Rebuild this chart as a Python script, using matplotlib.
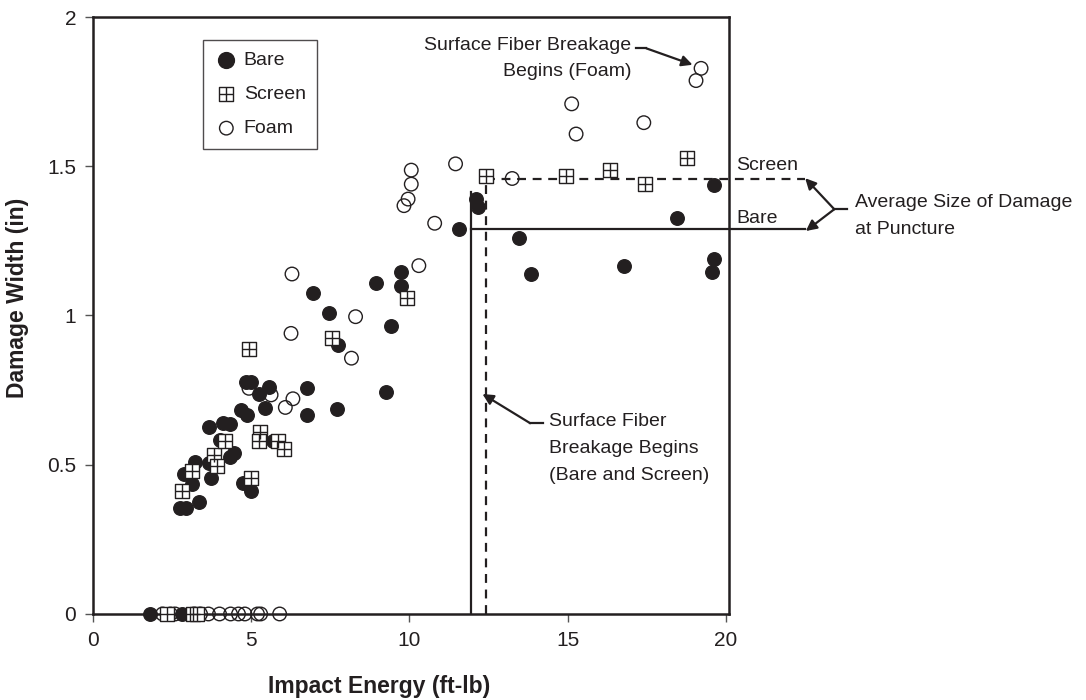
import numpy as np
import matplotlib
matplotlib.use('Agg')
import matplotlib.pyplot as plt

plt.rcParams['font.family'] = ['Liberation Sans', 'DejaVu Sans']

# impact energy (ft-lb) and damage width (in)
bare_x = [1.8, 2.8, 2.76, 2.95, 3.35, 2.89, 3.14, 3.21, 3.72, 3.68, 4.74, 5.0, 4.0, 4.34, 4.47,
          3.66, 4.10, 4.32, 4.68, 4.86, 5.44, 5.26, 5.56, 4.84, 5.0, 5.68, 6.77, 6.77, 7.72,
          6.96, 7.45, 7.74, 9.27, 9.43, 8.96, 9.73, 9.75, 11.56, 12.11, 12.17, 13.46, 13.85,
          16.77, 18.46, 19.64, 19.64, 19.56]
bare_y = [0, 0, 0.354, 0.354, 0.376, 0.469, 0.436, 0.508, 0.457, 0.505, 0.438, 0.413, 0.583,
          0.527, 0.538, 0.628, 0.639, 0.637, 0.683, 0.667, 0.689, 0.737, 0.759, 0.778, 0.778,
          0.578, 0.758, 0.667, 0.688, 1.076, 1.008, 0.901, 0.745, 0.965, 1.108, 1.147, 1.099,
          1.289, 1.390, 1.362, 1.259, 1.139, 1.167, 1.328, 1.437, 1.189, 1.147]

screen_x = [2.35, 3.15, 3.3, 2.82, 3.14, 3.84, 3.93, 4.16, 5.01, 5.29, 5.26, 5.86, 6.03, 4.93,
            7.55, 9.93, 12.41, 14.94, 16.35, 17.46, 18.77]
screen_y = [0, 0, 0, 0.413, 0.480, 0.531, 0.497, 0.581, 0.455, 0.609, 0.578, 0.581, 0.553,
            0.887, 0.926, 1.058, 1.467, 1.468, 1.487, 1.44, 1.527]

foam_x = [2.2, 2.45, 2.6, 3.2, 3.4, 3.65, 4.0, 4.35, 4.6, 4.8, 5.2, 5.3, 5.9, 4.93, 5.63,
          6.32, 6.08, 6.26, 6.29, 8.30, 8.17, 9.83, 9.96, 10.06, 10.06, 10.30, 10.80, 11.46,
          13.25, 15.13, 15.27, 17.41, 19.06, 19.22]
foam_y = [0, 0, 0, 0, 0, 0, 0, 0, 0, 0, 0, 0, 0, 0.756, 0.734, 0.721, 0.692, 0.940, 1.139,
          0.996, 0.857, 1.368, 1.390, 1.44, 1.487, 1.167, 1.309, 1.508, 1.459, 1.709, 1.608,
          1.646, 1.787, 1.828]

# onset of surface fiber breakage and average damage size at puncture
onset_bare, onset_screen = 11.96, 12.43
avg_bare, avg_screen = 1.289, 1.457

ink = '#231f20'
fs = 14
lsp = 1.75

fig = plt.figure(figsize=(10.86, 7), dpi=100)
ax = fig.add_axes([0.0856, 0.1229, 0.5856, 0.8528])

ax.scatter(bare_x, bare_y, s=95, c=ink, marker='o', clip_on=False, zorder=3)
sq = ax.scatter(screen_x, screen_y, s=100, facecolors='white', edgecolors=ink, marker='s',
                linewidths=1.0, clip_on=False, zorder=4)
pl = ax.scatter(screen_x, screen_y, s=100, c=ink, marker='+', linewidths=1.0,
                clip_on=False, zorder=5)
fm = ax.scatter(foam_x, foam_y, s=95, facecolors='none', edgecolors=ink, marker='o',
                linewidths=1.0, clip_on=False, zorder=3)

# reference lines
ax.plot([onset_bare, onset_bare], [0, 1.415], color=ink, lw=1.6, zorder=2)
ax.plot([onset_bare, 22.5], [avg_bare, avg_bare], color=ink, lw=1.6, clip_on=False, zorder=2)
ax.plot([onset_screen, onset_screen], [0, avg_screen], color=ink, lw=1.6, ls=(0, (4, 3)), zorder=2)
ax.plot([onset_screen, 22.5], [avg_screen, avg_screen], color=ink, lw=1.6, ls=(0, (4, 3)),
        clip_on=False, zorder=2)

ax.text(20.33, 1.504, 'Screen', fontsize=fs, color=ink, va='center', ha='left')
ax.text(20.33, 1.326, 'Bare', fontsize=fs, color=ink, va='center', ha='left')

arrow = dict(arrowstyle='-|>', color=ink, lw=1.6, mutation_scale=16, shrinkA=0, shrinkB=0)

# average size callout
ax.plot([23.43, 23.84], [1.356, 1.356], color=ink, lw=1.6, clip_on=False)
ax.annotate('', xy=(22.51, 1.460), xytext=(23.43, 1.356), arrowprops=arrow, annotation_clip=False)
ax.annotate('', xy=(22.53, 1.283), xytext=(23.43, 1.356), arrowprops=arrow, annotation_clip=False)
ax.text(24.09, 1.333, 'Average Size of Damage\nat Puncture', fontsize=fs, color=ink,
        va='center', ha='left', linespacing=lsp)

# foam breakage callout
ax.plot([17.17, 17.49], [1.895, 1.895], color=ink, lw=1.6)
ax.annotate('', xy=(18.95, 1.84), xytext=(17.49, 1.895), arrowprops=arrow)
ax.text(17.02, 1.861, 'Surface Fiber Breakage\nBegins (Foam)', fontsize=fs, color=ink,
        va='center', ha='right', multialignment='right', linespacing=lsp)

# bare/screen breakage callout
ax.plot([13.82, 14.22], [0.639, 0.639], color=ink, lw=1.6)
ax.annotate('', xy=(12.31, 0.737), xytext=(13.82, 0.639), arrowprops=arrow)
ax.text(14.41, 0.554, 'Surface Fiber\nBreakage Begins\n(Bare and Screen)', fontsize=fs,
        color=ink, va='center', ha='left', linespacing=lsp)

ax.set_xlim(0, 20.1)
ax.set_ylim(0, 2)
ax.set_xticks([0, 5, 10, 15, 20])
ax.set_yticks([0, 0.5, 1, 1.5, 2])
ax.set_yticklabels(['0', '0.5', '1', '1.5', '2'])
ax.tick_params(direction='out', length=6, width=1, color='#555555', labelsize=15,
               labelcolor=ink, pad=6)
for sp in ax.spines.values():
    sp.set_linewidth(1.8)
    sp.set_color(ink)

ax.set_xlabel('Impact Energy (ft-lb)', fontsize=16.5, fontweight='bold', color=ink)
ax.set_ylabel('Damage Width (in)', fontsize=16.5, fontweight='bold', color=ink)
ax.xaxis.set_label_coords(0.45, -0.102)
ax.yaxis.set_label_coords(-0.1, 0.53)

leg = ax.legend([ax.scatter([], [], s=130, c=ink, marker='o'), (sq, pl), fm],
                ['Bare', 'Screen', 'Foam'], loc='upper left', bbox_to_anchor=(0.173, 0.962),
                fontsize=fs, frameon=True, fancybox=False, edgecolor=ink, borderpad=0.6,
                labelspacing=0.85, handletextpad=0.3, handlelength=1.2, borderaxespad=0)
leg.get_frame().set_linewidth(1.0)
for t in leg.get_texts():
    t.set_color(ink)

fig.savefig('out.png', dpi=100)
